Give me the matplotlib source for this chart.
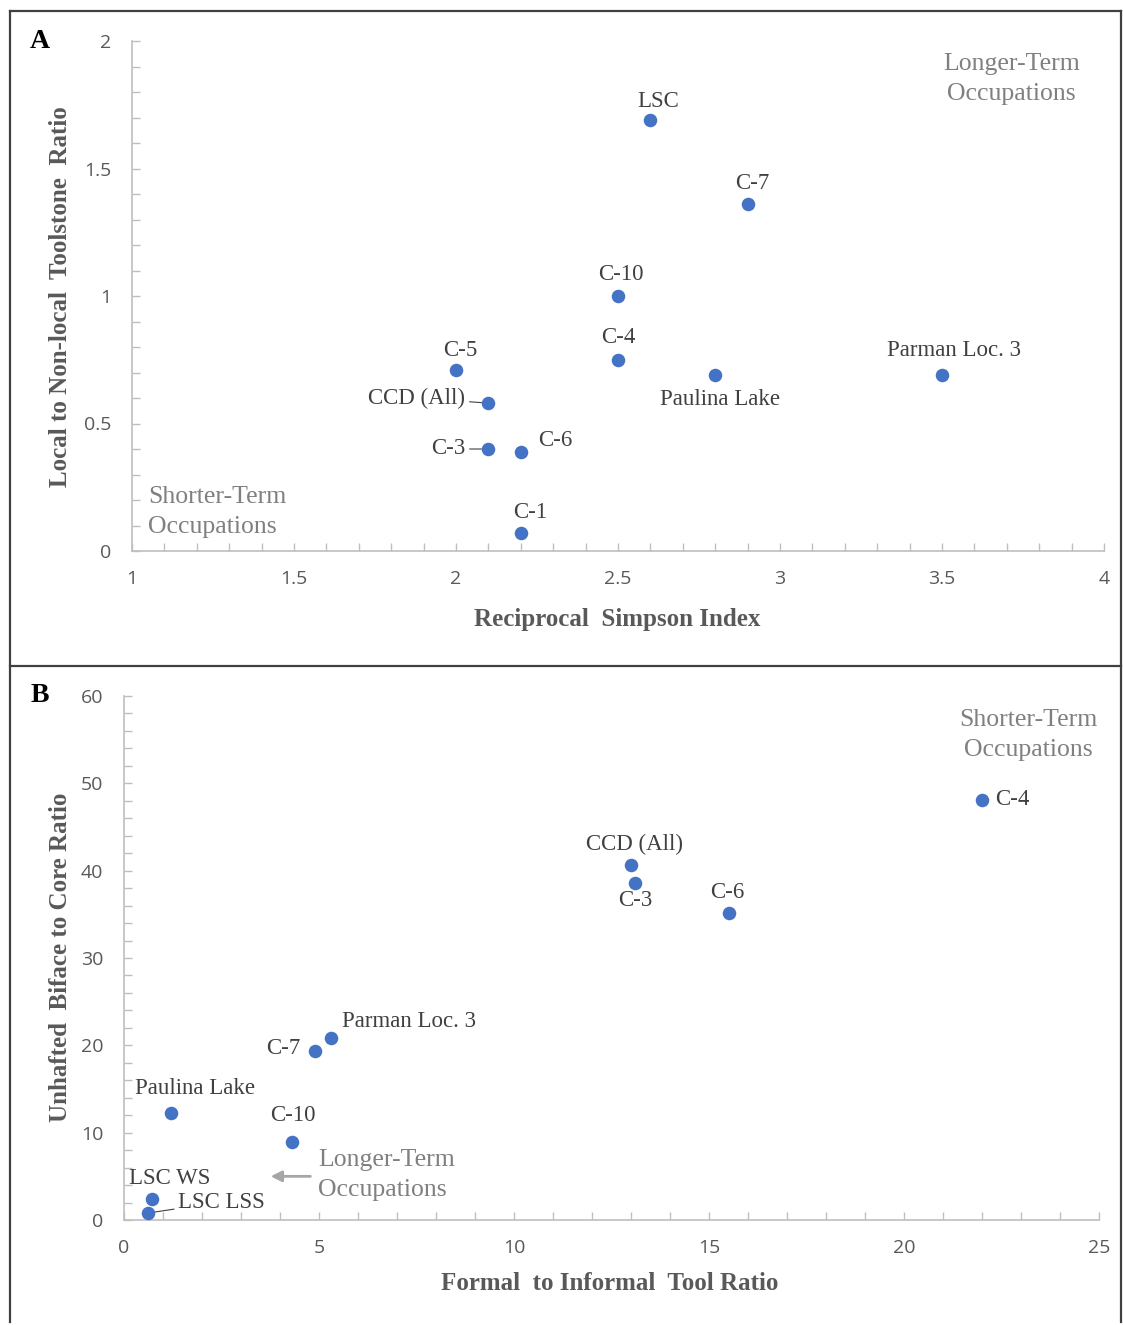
import matplotlib
matplotlib.use('Agg')
from matplotlib import pyplot as plt
from matplotlib.ticker import MultipleLocator, FuncFormatter
from matplotlib.lines import Line2D

# Panel A data
a_names = ['LSC', 'C-7', 'C-10', 'C-4', 'C-5', 'CCD (All)', 'C-3', 'C-6', 'C-1', 'Paulina Lake', 'Parman Loc. 3']
a_x = [2.6, 2.9, 2.5, 2.5, 2.0, 2.1, 2.1, 2.2, 2.2, 2.8, 3.5]
a_y = [1.69, 1.36, 1.0, 0.75, 0.71, 0.58, 0.40, 0.39, 0.07, 0.69, 0.69]

# Panel B data
b_names = ['C-4', 'CCD (All)', 'C-3', 'C-6', 'Parman Loc. 3', 'C-7', 'Paulina Lake', 'C-10', 'LSC WS', 'LSC LSS']
b_x = [22.0, 13.0, 13.1, 15.5, 5.3, 4.9, 1.2, 4.3, 0.72, 0.62]
b_y = [48.1, 40.6, 38.6, 35.1, 20.8, 19.4, 12.3, 8.9, 2.4, 0.8]

# label offsets in pixels (dx, dy, ha, leader)
a_off = {
    'LSC': (8, 19, 'center', False),
    'C-7': (5, 21, 'center', False),
    'C-10': (3, 21, 'center', False),
    'C-4': (0, 22, 'center', False),
    'C-5': (4, 19, 'center', False),
    'CCD (All)': (-23, 5, 'right', True),
    'C-3': (-23, 0, 'right', True),
    'C-6': (17, 11, 'left', False),
    'C-1': (9, 21, 'center', False),
    'Paulina Lake': (5, -24, 'center', False),
    'Parman Loc. 3': (12, 25, 'center', False),
}
b_off = {
    'C-4': (13, 0, 'left', False),
    'CCD (All)': (4, 21, 'center', False),
    'C-3': (0, -18, 'center', False),
    'C-6': (-1, 21, 'center', False),
    'Parman Loc. 3': (11, 17, 'left', False),
    'C-7': (-15, 2, 'right', False),
    'Paulina Lake': (24, 24, 'center', False),
    'C-10': (1, 27, 'center', False),
    'LSC WS': (18, 21, 'center', False),
    'LSC LSS': (30, 11, 'left', True),
}

SERIF = 'Liberation Serif'
SANS = 'Open Sans'
BLUE = '#4472C4'
AXC = '#bfbfbf'
TXT = '#404040'
GRAY = '#808080'


def style_axis(ax, xmaj, xmin, ymaj, ymin):
    for s in ['top', 'right']:
        ax.spines[s].set_visible(False)
    for s in ['left', 'bottom']:
        ax.spines[s].set_color(AXC)
        ax.spines[s].set_linewidth(1.2)
    ax.xaxis.set_major_locator(MultipleLocator(xmaj))
    ax.xaxis.set_minor_locator(MultipleLocator(xmin))
    ax.yaxis.set_major_locator(MultipleLocator(ymaj))
    ax.yaxis.set_minor_locator(MultipleLocator(ymin))
    fmt = FuncFormatter(lambda v, p: ('%g' % v))
    ax.xaxis.set_major_formatter(fmt)
    ax.yaxis.set_major_formatter(fmt)
    ax.tick_params(which='both', direction='in', color=AXC, length=6, width=1)
    ax.tick_params(axis='x', which='major', pad=14, labelsize=14, labelcolor='#595959')
    ax.tick_params(axis='y', which='major', pad=15, labelsize=14, labelcolor='#595959')
    for lab in ax.get_xticklabels() + ax.get_yticklabels():
        lab.set_family(SANS)


def label_points(ax, names, xs, ys, offs):
    for n, x, y in zip(names, xs, ys):
        dx, dy, ha, leader = offs[n]
        kw = {}
        if leader:
            kw['arrowprops'] = dict(arrowstyle='-', color=TXT, lw=0.8, shrinkA=1, shrinkB=5)
        ax.annotate(n, (x, y), xytext=(dx, dy), textcoords='offset pixels',
                    ha=ha, va='center', fontsize=16.5, family=SERIF, color=TXT, **kw)


fig = plt.figure(figsize=(11.23, 13.25), dpi=100)

# Panel A
axA = fig.add_axes([132/1123, 1-551/1325, 972/1123, 510/1325])
axA.scatter(a_x, a_y, s=95, color=BLUE, zorder=3, linewidths=0)
axA.set_xlim(1, 4)
axA.set_ylim(0, 2)
style_axis(axA, 0.5, 0.1, 0.5, 0.1)
label_points(axA, a_names, a_x, a_y, a_off)
axA.set_xlabel('Reciprocal  Simpson Index', family=SERIF, fontweight='bold', fontsize=18, color='#595959', va='center')
axA.xaxis.set_label_coords(0.499, -0.135)
axA.set_ylabel('Local to Non-local  Toolstone  Ratio', family=SERIF, fontweight='bold', fontsize=18, color='#595959', va='center')
axA.yaxis.set_label_coords(-0.074, 0.498)
axA.text(0.905, 0.925, 'Longer-Term\nOccupations', transform=axA.transAxes, ha='center', va='center',
         family=SERIF, fontsize=18.5, color=GRAY, linespacing=1.45)
axA.text(0.0165, 0.0765, 'Shorter-Term\nOccupations', transform=axA.transAxes, ha='left', va='center',
         family=SERIF, fontsize=18.5, color=GRAY, linespacing=1.45)

# Panel B
axB = fig.add_axes([124/1123, 1-1220/1325, 975/1123, 524/1325])
axB.scatter(b_x, b_y, s=95, color=BLUE, zorder=3, linewidths=0)
axB.set_xlim(0, 25)
axB.set_ylim(0, 60)
style_axis(axB, 5, 1, 10, 2)
label_points(axB, b_names, b_x, b_y, b_off)
axB.set_xlabel('Formal  to Informal  Tool Ratio', family=SERIF, fontweight='bold', fontsize=18, color='#595959', va='center')
axB.xaxis.set_label_coords(0.498, -0.122)
axB.set_ylabel('Unhafted  Biface to Core Ratio', family=SERIF, fontweight='bold', fontsize=18, color='#595959', va='center')
axB.yaxis.set_label_coords(-0.0656, 0.502)
axB.text(0.928, 0.9256, 'Shorter-Term\nOccupations', transform=axB.transAxes, ha='center', va='center',
         family=SERIF, fontsize=18.5, color=GRAY, linespacing=1.45)
axB.text(0.199, 0.0859, 'Longer-Term\nOccupations', transform=axB.transAxes, ha='left', va='center',
         family=SERIF, fontsize=18.5, color=GRAY, linespacing=1.45)
axB.annotate('', xy=(3.69, 5.0), xytext=(4.85, 5.0),
             arrowprops=dict(arrowstyle='-|>', color='#a6a6a6', lw=2, mutation_scale=16))

# panel letters
fig.text(40/1123, 1-42/1325, 'A', family=SERIF, fontweight='bold', fontsize=20, ha='center', va='center')
fig.text(40/1123, 1-696/1325, 'B', family=SERIF, fontweight='bold', fontsize=20, ha='center', va='center')

# frame around panels
W, H = 1123, 1325
def fl(x0, y0, x1, y1):
    fig.add_artist(Line2D([x0/W, x1/W], [1-y0/H, 1-y1/H], color='#404040', lw=1.6))
fl(10, 11, 1121, 11)
fl(10, 11, 10, 1322)
fl(1121, 11, 1121, 1322)
fl(10, 666, 1121, 666)

fig.savefig('out.png', dpi=100)
